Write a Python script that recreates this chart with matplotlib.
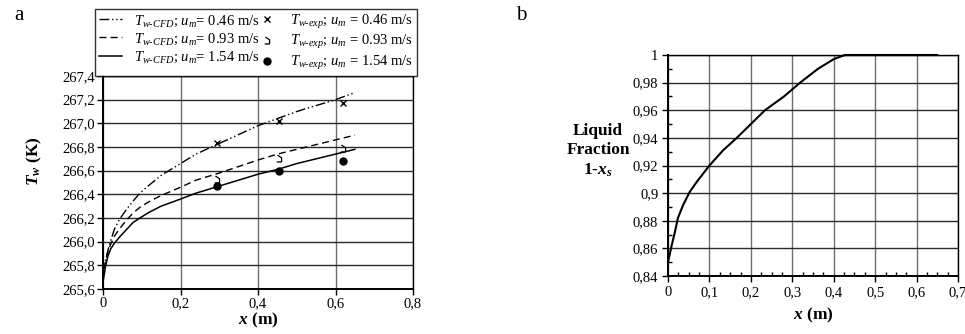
import matplotlib
matplotlib.use("Agg")
import matplotlib.pyplot as plt
from matplotlib.path import Path
from matplotlib.ticker import MultipleLocator, FuncFormatter

plt.rcParams['font.family'] = ['Liberation Serif', 'DejaVu Serif']
plt.rcParams['mathtext.fontset'] = 'custom'
plt.rcParams['mathtext.rm'] = 'Liberation Serif'
plt.rcParams['mathtext.it'] = 'Liberation Serif:italic'
plt.rcParams['mathtext.bf'] = 'Liberation Serif:bold'
plt.rcParams['mathtext.bfit'] = 'Liberation Serif:bold:italic'

# ---- data (panel a) ----
x_cfd = [0.0, 0.002, 0.007, 0.013, 0.02, 0.03, 0.043, 0.06, 0.077, 0.095, 0.12, 0.15,
         0.2, 0.24, 0.3, 0.4, 0.45, 0.5, 0.6, 0.65]
tw_046 = [265.70, 265.78, 265.85, 265.93, 266.01, 266.11, 266.19, 266.27, 266.34, 266.41,
          266.48, 266.56, 266.66, 266.74, 266.83, 266.98, 267.04, 267.10, 267.20, 267.26]
tw_093 = [265.68, 265.74, 265.84, 265.92, 265.98, 266.05, 266.11, 266.18, 266.24, 266.29,
          266.34, 266.39, 266.46, 266.52, 266.58, 266.69, 266.74, 266.78, 266.86, 266.90]
tw_154 = [265.66, 265.70, 265.80, 265.88, 265.94, 265.99, 266.04, 266.10, 266.16, 266.20,
          266.25, 266.30, 266.36, 266.41, 266.47, 266.57, 266.61, 266.66, 266.74, 266.78]

x_exp = [0.295, 0.455, 0.62]
exp_046 = [266.83, 267.02, 267.17]
exp_093 = [266.53, 266.71, 266.79]
exp_154 = [266.47, 266.60, 266.68]

labels_cfd = [r'$T_{w\text{-}CFD}$; $u_m$= 0.46 m/s',
              r'$T_{w\text{-}CFD}$; $u_m$= 0.93 m/s',
              r'$T_{w\text{-}CFD}$; $u_m$= 1.54 m/s']
labels_exp = [r'$T_{w\text{-}exp}$; $u_m$ = 0.46 m/s',
              r'$T_{w\text{-}exp}$; $u_m$ = 0.93 m/s',
              r'$T_{w\text{-}exp}$; $u_m$ = 1.54 m/s']

# ---- data (panel b) ----
x_lf = [0.0, 0.008, 0.016, 0.024, 0.036, 0.052, 0.069, 0.1, 0.133, 0.166, 0.2, 0.234,
        0.28, 0.319, 0.362, 0.4, 0.427, 0.65]
lf = [0.850, 0.861, 0.871, 0.882, 0.891, 0.9007, 0.908, 0.92, 0.931, 0.94, 0.95, 0.96,
      0.97, 0.98, 0.99, 0.997, 1.0, 1.0]

fig = plt.figure(figsize=(9.65, 3.34), dpi=100)

comma = FuncFormatter(lambda v, p: ('%.1f' % v).replace('.', ','))

# ---------------- panel a ----------------
axa = fig.add_axes([103/965, 1-289/334, 310/965, 213/334])
axa.plot(x_cfd, tw_046, color='black', lw=1.0, dashes=(7, 2, 1, 2, 1, 2), label=labels_cfd[0])
axa.plot(x_cfd, tw_093, color='black', lw=1.0, dashes=(5, 3), label=labels_cfd[1])
axa.plot(x_cfd, tw_154, color='black', lw=1.1, label=labels_cfd[2])
hook = Path([(-0.3, 0.5), (0.3, 0.1), (0.3, -0.5), (-0.4, -0.5)],
            [Path.MOVETO, Path.LINETO, Path.LINETO, Path.LINETO])
axa.plot(x_exp, exp_046, ls='none', marker='x', ms=5, mew=1.0, color='black', label=labels_exp[0])
axa.plot(x_exp, exp_093, ls='none', marker=hook, ms=5, mew=0.9, mfc='none', color='black', label=labels_exp[1])
axa.plot(x_exp, exp_154, ls='none', marker='o', ms=5, color='black', label=labels_exp[2])

axa.set_xlim(0, 0.8)
axa.set_ylim(265.6, 267.4)
axa.xaxis.set_major_locator(MultipleLocator(0.2))
axa.yaxis.set_major_locator(MultipleLocator(0.2))
axa.xaxis.set_major_formatter(FuncFormatter(lambda v, p: '0' if abs(v) < 1e-9 else ('%.1f' % v).replace('.', ',')))
axa.yaxis.set_major_formatter(comma)
axa.grid(axis='x', color='#6e6e6e', lw=1.0)
axa.grid(axis='y', color='#2a2a2a', lw=1.0)
axa.tick_params(labelsize=10.5, length=4, width=1, direction='out', pad=2)
for s in axa.spines.values():
    s.set_linewidth(1.0)
axa.spines['left'].set_linewidth(1.4)
axa.spines['bottom'].set_linewidth(1.4)
axa.set_xlabel(r'$\mathbfit{x}$ (m)', fontsize=12.5, fontweight='bold', labelpad=0)
axa.set_ylabel(r'$\mathbfit{T_w}$ (K)', fontsize=12.5, fontweight='bold')
axa.yaxis.set_label_coords(-0.19, 0.6)

leg = axa.legend(ncol=2, loc='lower left', bbox_to_anchor=(-0.026, 1.0, 1.039, 0.29),
                 mode='expand', fontsize=10.5, frameon=True, fancybox=False,
                 edgecolor='black', borderpad=0.25, labelspacing=0.2,
                 handlelength=1.6, handletextpad=0.8, columnspacing=1.0, borderaxespad=0.0)
leg.get_frame().set_linewidth(1.0)

fig.text(14/965, 1-15/334, 'a', fontsize=15, ha='left', va='center')

# ---------------- panel b ----------------
axb = fig.add_axes([668/965, 1-276/334, 290/965, 221/334])
axb.plot(x_lf, lf, color='black', lw=1.5, clip_on=False)
axb.set_xlim(0, 0.7)
axb.set_ylim(0.84, 1.0)
axb.xaxis.set_major_locator(MultipleLocator(0.1))
axb.xaxis.set_minor_locator(MultipleLocator(0.025))
axb.yaxis.set_major_locator(MultipleLocator(0.02))
axb.yaxis.set_minor_locator(MultipleLocator(0.01))

def fmt_b(v, p):
    if abs(v) < 1e-9:
        return '0'
    s = ('%.2f' % v).rstrip('0').rstrip('.')
    return s.replace('.', ',')

axb.xaxis.set_major_formatter(FuncFormatter(fmt_b))
axb.yaxis.set_major_formatter(FuncFormatter(fmt_b))
axb.grid(axis='x', which='major', color='#6e6e6e', lw=1.0)
axb.grid(axis='y', which='major', color='#2a2a2a', lw=1.0)
axb.tick_params(which='major', labelsize=10.5, length=4, width=1, direction='out', pad=3)
axb.tick_params(which='minor', length=3, width=1, direction='in')
for s in axb.spines.values():
    s.set_linewidth(1.0)
axb.spines['left'].set_linewidth(1.4)
axb.spines['bottom'].set_linewidth(1.4)
axb.set_xlabel(r'$\mathbfit{x}$ (m)', fontsize=12.5, fontweight='bold', labelpad=5)
fig.text(598/965, 1-151/334, 'Liquid\nFraction\n' + r'1-$\mathbfit{x_s}$', fontsize=12.5,
         fontweight='bold', ha='center', va='center', linespacing=1.3)
fig.text(516/965, 1-15/334, 'b', fontsize=15, ha='left', va='center')

fig.savefig('out.png', dpi=100)
